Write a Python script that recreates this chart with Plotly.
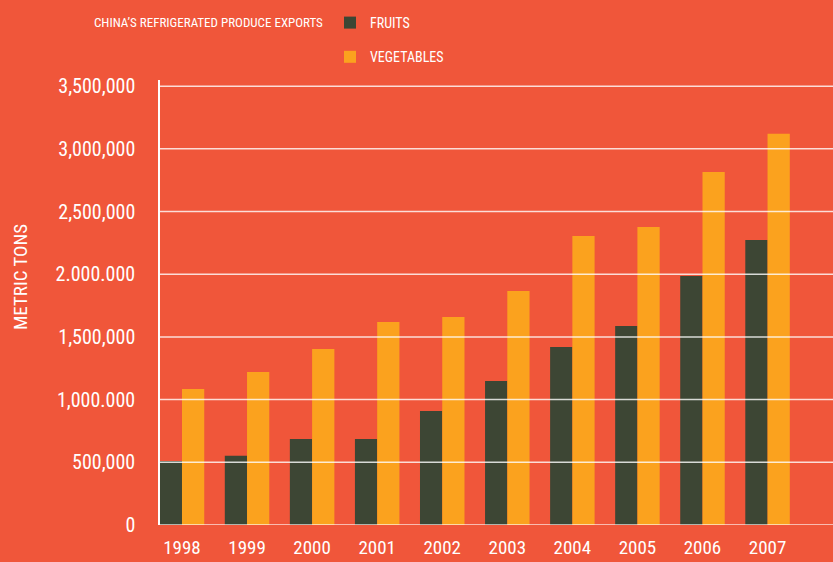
import plotly.graph_objects as go

years = ["1998", "1999", "2000", "2001", "2002", "2003", "2004", "2005", "2006", "2007"]
fruits = [510000, 553000, 686000, 685000, 909000, 1148000, 1419000, 1587000, 1986000, 2273000]
vegetables = [1085000, 1220000, 1404000, 1619000, 1659000, 1866000, 2305000, 2376000, 2815000, 3120000]
ytick_vals = [0, 500000, 1000000, 1500000, 2000000, 2500000, 3000000, 3500000]
ytick_text = ["0", "500,000", "1,000.000", "1,500,000", "2.000.000", "2,500,000", "3,000,000", "3,500,000"]

BG = "#F0563A"
FONT = "Arial Narrow, Liberation Sans Narrow, Roboto Condensed, sans-serif"

fig = go.Figure()
fig.add_trace(go.Bar(x=years, y=fruits, name="FRUITS", marker_color="#3D4634",
                     marker_line_width=0, legendgroup="f"))
fig.add_trace(go.Bar(x=years, y=vegetables, name="VEGETABLES", marker_color="#FBA21E",
                     marker_line_width=0, legendgroup="v"))

shapes = [dict(type="line", xref="paper", x0=0, x1=1, yref="y", y0=v, y1=v,
               line=dict(color="rgba(255,255,255,0.8)", width=1.5), layer="above")
          for v in ytick_vals]

fig.update_layout(
    width=833, height=562,
    paper_bgcolor=BG, plot_bgcolor=BG,
    margin=dict(l=160, r=0, t=80, b=37),
    barmode="group", bargap=0.316, bargroupgap=0,
    font=dict(family=FONT, color="white", size=20),
    title=dict(text="CHINA’S REFRIGERATED PRODUCE EXPORTS", x=94/833, xanchor="left",
               xref="container", y=1-22/562, yanchor="middle", yref="container",
               font=dict(size=13, color="white", family=FONT)),
    legend=dict(x=(330-160)/673, xanchor="left", y=(525-7)/445, yanchor="top",
                font=dict(size=14, color="white", family=FONT), tracegroupgap=13,
                bgcolor="rgba(0,0,0,0)", traceorder="grouped"),
    shapes=shapes,
    annotations=[dict(text="METRIC TONS", xref="paper", yref="paper",
                      x=-(160-20)/673, y=(525-277)/445, xanchor="center", yanchor="middle",
                      textangle=-90, showarrow=False, font=dict(size=19, color="white", family=FONT))],
)
fig.update_xaxes(type="category", range=[-0.338, 10.006], showgrid=False, zeroline=False,
                 showline=False, ticks="", ticklabelstandoff=9, automargin=False,
                 tickfont=dict(size=19, color="white", family=FONT))
fig.update_yaxes(range=[0, 3549000], showgrid=False, zeroline=False,
                 showline=True, linecolor="white", linewidth=1.5, automargin=False,
                 tickvals=ytick_vals, ticktext=ytick_text, ticks="", ticklabelstandoff=19,
                 tickfont=dict(size=20, color="white", family=FONT))

fig.write_html("out.html", config={"displayModeBar": False},
               post_script="document.body.style.margin='0';")
